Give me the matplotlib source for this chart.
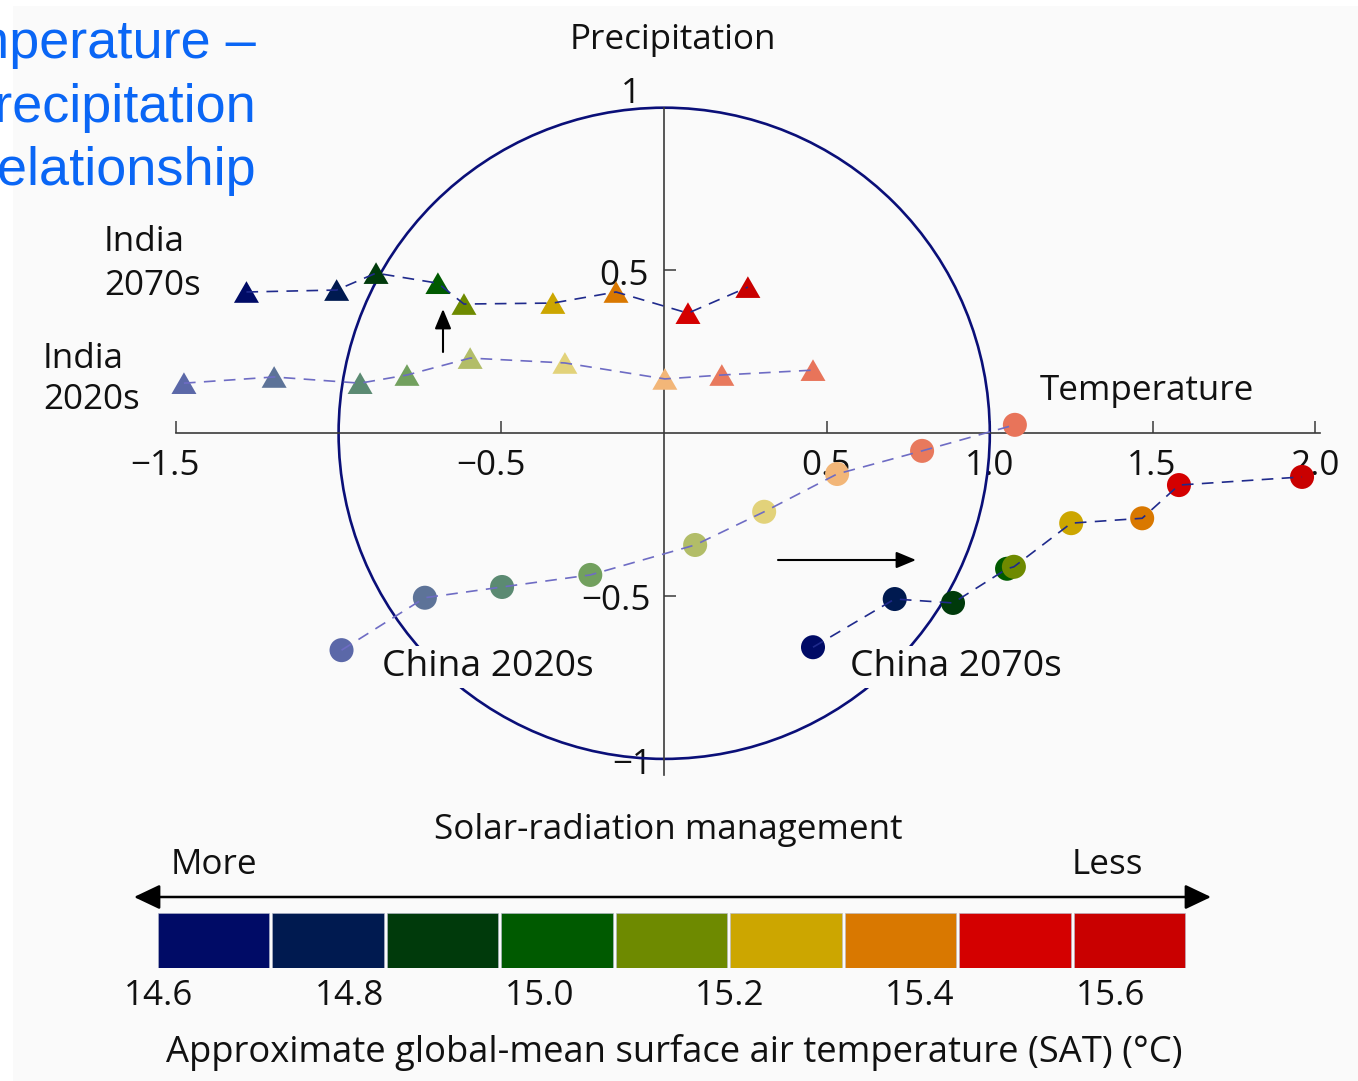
import numpy as np
import matplotlib
matplotlib.use("Agg")
import matplotlib.pyplot as plt
from matplotlib.patches import Circle, Rectangle
from matplotlib.path import Path
from matplotlib.transforms import blended_transform_factory

plt.rcParams["font.family"] = ["Open Sans", "DejaVu Sans"]

# ---------------- data ----------------
# Normalised temperature / precipitation change, one point per SRM level
india_2070s_temp = [-1.283, -1.006, -0.885, -0.695, -0.615, -0.342, -0.148, 0.073, 0.257]
india_2070s_prec = [0.434, 0.440, 0.492, 0.461, 0.397, 0.400, 0.434, 0.369, 0.449]

india_2020s_temp = [-1.475, -1.198, -0.934, -0.790, -0.596, -0.305, 0.002, 0.177, 0.457]
india_2020s_prec = [0.154, 0.173, 0.154, 0.179, 0.231, 0.216, 0.167, 0.179, 0.194]

china_2020s_temp = [-0.991, -0.735, -0.498, -0.227, 0.095, 0.307, 0.531, 0.792, 1.077]
china_2020s_prec = [-0.666, -0.505, -0.472, -0.435, -0.343, -0.241, -0.125, -0.054, 0.026]

china_2070s_temp = [0.457, 0.708, 0.887, 1.053, 1.074, 1.250, 1.468, 1.581, 1.959]
china_2070s_prec = [-0.657, -0.509, -0.521, -0.416, -0.410, -0.276, -0.261, -0.159, -0.134]

# Colour per SRM level (2070s: full colour, 2020s: pale)
level_colors = ["#000B66", "#001A50", "#003A0B", "#005A00", "#6E8A00",
                "#CCA600", "#D97800", "#D40000", "#C90000"]
pale_colors = ["#5B68A8", "#5D7398", "#5B8A72", "#72A05E", "#B2BD68",
               "#E2D27A", "#F2B678", "#E8795D", "#E8745A"]

x_ticks = [-1.5, -0.5, 0.5, 1.0, 1.5, 2.0]
x_tick_labels = ["\u22121.5", "\u22120.5", "0.5", "1.0", "1.5", "2.0"]
y_ticks = [-1.0, -0.5, 0.5, 1.0]
y_tick_labels = ["\u22121", "\u22120.5", "0.5", "1"]

sat_ticks = [14.6, 14.8, 15.0, 15.2, 15.4, 15.6]
sat_tick_labels = ["14.6", "14.8", "15.0", "15.2", "15.4", "15.6"]
sat_range = (14.5976, 15.6802)

# ---------------- layout ----------------
W, H, DPI = 1358, 1081, 100
S = 325.6            # pixels per unit on both axes
X0, Y0 = 664.2, 433.3  # origin in pixels
BG = "#FAFAFA"
INK = "#111111"
FS = 25.2


def px_x(px):
    return (px - X0) / S


def px_y(py):
    return (Y0 - py) / S


fig = plt.figure(figsize=(W / DPI, H / DPI), dpi=DPI, facecolor="white")
fig.add_artist(Rectangle((13 / W, 0), 1, 1 - 6 / H, transform=fig.transFigure,
                         facecolor=BG, edgecolor="none", zorder=-10))

ax = fig.add_axes([0, 0, 1, 1])
ax.patch.set_visible(False)
ax.set_xlim(px_x(0), px_x(W))
ax.set_ylim(px_y(H), px_y(0))

# axes through the origin
for side in ("top", "right"):
    ax.spines[side].set_visible(False)
ax.spines["left"].set_position(("data", 0))
ax.spines["bottom"].set_position(("data", 0))
ax.spines["left"].set_bounds(-1.049, 1.0)
ax.spines["bottom"].set_bounds(-1.5, 2.015)
for side in ("left", "bottom"):
    ax.spines[side].set_color("#3A3A3A")
    ax.spines[side].set_linewidth(1.2)
ax.set_xticks(x_ticks)
ax.set_yticks(y_ticks)
ax.tick_params(direction="in", length=8.6, width=1.1, color="#3A3A3A",
               labelbottom=False, labelleft=False)

# unit circle
ax.add_patch(Circle((0, 0), 1.0, fill=False, edgecolor="#0A0F78", linewidth=1.9, zorder=2))

# tick labels
for t, lbl in zip(x_ticks, x_tick_labels):
    ax.text(t + 24 / S, px_y(475), lbl, ha="right", va="baseline",
            fontsize=FS, color=INK, zorder=1)
y_label_pos = {1.0: (641, 103), 0.5: (649, 285), -0.5: (651, 610), -1.0: (652, 774)}
for t, lbl in zip(y_ticks, y_tick_labels):
    rx, by = y_label_pos[t]
    ax.text(px_x(rx), px_y(by), lbl, ha="right", va="baseline",
            fontsize=FS, color=INK, zorder=1)

ax.text(px_x(673), px_y(49), "Precipitation", ha="center", va="baseline",
        fontsize=FS, color=INK)
ax.text(px_x(1040), px_y(400), "Temperature", ha="left", va="baseline",
        fontsize=FS, color=INK)

# markers
tri = Path([(0, 0.866), (-1, -0.866), (1, -0.866), (0, 0.866)],
           [Path.MOVETO, Path.LINETO, Path.LINETO, Path.CLOSEPOLY])
TRI_S = 18.0 ** 2
DOT_S = 17.3 ** 2
DASH = (0, (7, 5))
DARK_LINE = "#1F2A8C"
PALE_LINE = "#6E6CC4"

series = [
    (india_2020s_temp, india_2020s_prec, pale_colors, tri, TRI_S, PALE_LINE),
    (india_2070s_temp, india_2070s_prec, level_colors, tri, TRI_S, DARK_LINE),
    (china_2020s_temp, china_2020s_prec, pale_colors, "o", DOT_S, PALE_LINE),
    (china_2070s_temp, china_2070s_prec, level_colors, "o", DOT_S, DARK_LINE),
]
for xs, ys, cols, mk, size, lc in series:
    ax.scatter(xs, ys, s=size, c=cols, marker=mk, edgecolors="none", zorder=3)
    ax.plot(xs, ys, linestyle=DASH, linewidth=1.2, color=lc, zorder=4)

# group labels
for (lx, by), txt in [((104, 251), "India"), ((104, 295), "2070s"),
                      ((43, 368), "India"), ((43, 409), "2020s")]:
    ax.text(px_x(lx), px_y(by), txt, ha="left", va="baseline", fontsize=FS, color=INK)
for lx, txt in [(382, "China 2020s"), (850, "China 2070s")]:
    ax.text(px_x(lx), px_y(676), txt, ha="left", va="baseline", fontsize=26.8, color=INK,
            zorder=5, bbox=dict(facecolor=BG, edgecolor="none", pad=2))

# shift arrows
arrow_kw = dict(arrowstyle="-|>,head_length=0.6,head_width=0.25", color="black",
                lw=1.5, mutation_scale=20, shrinkA=0, shrinkB=0)
ax.annotate("", xy=(px_x(916), px_y(560)), xytext=(px_x(778), px_y(560)),
            arrowprops=arrow_kw, zorder=6)
ax.annotate("", xy=(px_x(443), px_y(309)), xytext=(px_x(443), px_y(352)),
            arrowprops=arrow_kw, zorder=6)

# title
for by, line in [(58, "Temperature \u2013"), (122, "Precipitation"), (185, "relationship")]:
    fig.text(256 / W, 1 - by / H, line, ha="right", va="baseline",
             fontsize=39, color="#0A66F5", family="Liberation Sans")

# ---------------- SRM colour scale ----------------
ax.text(px_x(668), px_y(839), "Solar-radiation management", ha="center", va="baseline",
        fontsize=FS, color=INK)
ax.text(px_x(170.5), px_y(874), "More", ha="left", va="baseline", fontsize=FS, color=INK)
ax.text(px_x(1143), px_y(874), "Less", ha="right", va="baseline", fontsize=FS, color=INK)
ax.annotate("", xy=(px_x(134), px_y(897)), xytext=(px_x(1211), px_y(897)),
            arrowprops=dict(arrowstyle="<|-|>,head_length=0.8,head_width=0.38",
                            color="black", lw=1.8, mutation_scale=20,
                            shrinkA=0, shrinkB=0))

cax = fig.add_axes([156.5 / W, 1 - 968 / H, (1186.7 - 156.5) / W, (968 - 912.7) / H])
cax.set_xlim(*sat_range)
cax.set_ylim(0, 1)
cax.axis("off")
edges = np.linspace(sat_range[0], sat_range[1], len(level_colors) + 1)
box_w = edges[1] - edges[0]
gap = 3.0 / 951.6
cax.bar(edges[:-1] + gap / 2, 1, width=box_w - gap, align="edge",
        color=level_colors, edgecolor="#B4B8CC", linewidth=0.4)

lbl_tr = blended_transform_factory(cax.transData, ax.transData)
for t, lbl in zip(sat_ticks, sat_tick_labels):
    ax.text(t, px_y(1005), lbl, transform=lbl_tr, ha="center", va="baseline",
            fontsize=FS, color=INK)

ax.text(px_x(674), px_y(1062), "Approximate global-mean surface air temperature (SAT) (\u00b0C)",
        ha="center", va="baseline", fontsize=26.2, color=INK)

fig.savefig("out.png", dpi=DPI, facecolor=fig.get_facecolor())
